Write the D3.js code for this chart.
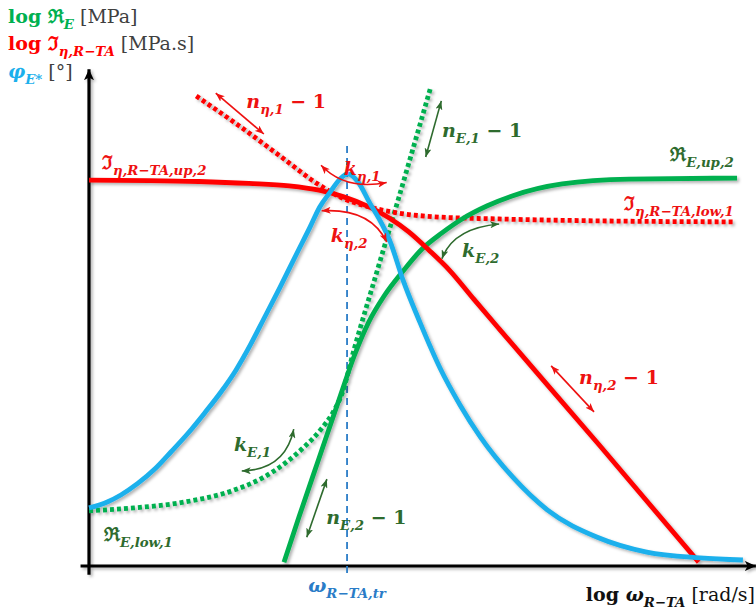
<!DOCTYPE html>
<html>
<head>
<meta charset="utf-8">
<script src="https://cdn.jsdelivr.net/npm/d3@7"></script>
<style>
  html, body { margin: 0; padding: 0; background: #fff; }
  svg { display: block; }
</style>
</head>
<body>
<svg id="chart" width="756" height="614"></svg>
<script>
// Abstract units: x = log angular frequency (0–100), y = log response (0–100)

// Loss-viscosity master curve, upper (solid) branch
const imUp = [[0,80.4],[9.2,80.3],[16.9,80.1],[24.6,79.7],[30.8,79.2],[35.4,78.3],[39.2,76.9],
  [43.1,74.8],[46.2,72.5],[49.2,69.6],[52.3,65.8],[55.4,61.7],[59.2,55.6],[63.1,49.4],
  [78.5,25.2],[93.8,0.8]];
// Loss-viscosity, lower (dotted) branch
const imLow = [[16.5,97.9],[23.1,91.7],[29.2,85.6],[35.4,79.4],[39.2,76.5],[43.1,74.8],
  [47.7,73.5],[53.8,72.7],[63.1,72.3],[78.5,71.9],[99.2,71.7]];
// Storage modulus, upper (solid) branch
const reUp = [[30.0,0.8],[32.3,10.2],[35.4,22.5],[38.5,34.8],[40.8,43.75],[43.1,51.0],
  [45.4,56.25],[48.2,61.25],[51.2,66.0],[54.3,69.4],[57.4,72.3],[61.2,75.0],[65.1,77.1],
  [72.8,79.6],[83.1,80.6],[99.7,80.8]];
// Storage modulus, lower (dotted) branch
const reLow = [[0,11.5],[6.9,12.1],[14.6,13.3],[22.3,15.8],[26.9,18.5],[30.0,21.25],
  [33.1,24.8],[35.7,28.5],[37.5,31.9],[38.9,35.8],[40.8,45.2],[44.6,62.7],[47.7,76.9],
  [49.7,86.25],[52.5,99.4]];
// Phase angle
const phase = [[0,12.1],[2.9,13.4],[4.9,14.8],[7.5,17.2],[10.2,20.3],[12.6,23.75],
  [15.2,27.6],[17.8,31.9],[20.3,36.25],[22.6,40.8],[24.8,46.0],[26.8,51.25],[29.4,58.1],
  [32.0,65.2],[34.0,70.6],[35.5,74.8],[37.1,77.9],[38.6,80.6],[39.8,81.7],[41.4,80.0],
  [43.2,75.6],[44.8,71.9],[46.3,67.7],[48.3,59.6],[50.9,50.8],[54.0,41.25],[57.1,33.5],
  [60.2,26.9],[65.2,18.5],[70.5,11.7],[78.2,6.0],[85.8,2.9],[94.0,1.7],[100.6,1.25]];
// Transition frequency
const omegaTr = 39.7;

const C = {
  red: "#ff0000", redText: "#ee1111",
  green: "#00b050", dkGreen: "#2e6b2e",
  blue: "#1cb0ec", dkBlue: "#2a7cc7",
  gray: "#404040"
};

const svg = d3.select("#chart");
const x = d3.scaleLinear().domain([0, 100]).range([89, 739]);
const y = d3.scaleLinear().domain([0, 100]).range([566, 86]);

const defs = svg.append("defs");
const shadow = defs.append("filter").attr("id", "shadow")
  .attr("x", "-10%").attr("y", "-10%").attr("width", "120%").attr("height", "120%");
shadow.append("feDropShadow").attr("dx", 2).attr("dy", 2)
  .attr("stdDeviation", 1.4).attr("flood-color", "#000").attr("flood-opacity", 0.3);

function arrowMarker(id, color, len, wid) {
  defs.append("marker").attr("id", id)
    .attr("viewBox", `0 ${-wid / 2} ${len} ${wid}`)
    .attr("refX", len).attr("refY", 0)
    .attr("markerWidth", len).attr("markerHeight", wid)
    .attr("markerUnits", "userSpaceOnUse")
    .attr("orient", "auto-start-reverse")
    .append("path")
    .attr("d", `M0,${-wid / 2}L${len},0L0,${wid / 2}L${len * 0.25},0Z`)
    .attr("fill", color);
}
arrowMarker("axisHead", "#000", 11, 10);
arrowMarker("redHead", C.redText, 9, 7);
arrowMarker("greenHead", C.dkGreen, 9, 7);

// Axes
const axes = svg.append("g").attr("filter", "url(#shadow)");
axes.append("line")
  .attr("x1", x(0)).attr("y1", y(-1.8)).attr("x2", x(0)).attr("y2", y(103.5))
  .attr("stroke", "#000").attr("stroke-width", 3.2).attr("marker-end", "url(#axisHead)");
axes.append("line")
  .attr("x1", x(-1.3)).attr("y1", y(0)).attr("x2", x(102.6)).attr("y2", y(0))
  .attr("stroke", "#000").attr("stroke-width", 3.2).attr("marker-end", "url(#axisHead)");

// Transition frequency marker
svg.append("line")
  .attr("x1", x(omegaTr)).attr("x2", x(omegaTr))
  .attr("y1", y(87.5)).attr("y2", y(-2.3))
  .attr("stroke", C.dkBlue).attr("stroke-width", 1.8).attr("stroke-dasharray", "7,5");

const line = d3.line().x(d => x(d[0])).y(d => y(d[1])).curve(d3.curveMonotoneX);
const curves = svg.append("g").attr("filter", "url(#shadow)").attr("fill", "none");

function drawCurve(data, color, dotted) {
  curves.append("path").datum(data).attr("d", line)
    .attr("stroke", color)
    .attr("stroke-width", 4.8)
    .attr("stroke-dasharray", dotted ? "4,3" : null)
    .attr("stroke-linecap", "butt")
    .attr("stroke-linejoin", "round");
}
drawCurve(reLow, C.green, true);
drawCurve(imLow, C.red, true);
drawCurve(reUp, C.green, false);
drawCurve(imUp, C.red, false);
drawCurve(phase, C.blue, false);

// Rich text with subscripts
const FONT = "'DejaVu Serif', 'Liberation Serif', serif";
function rich(px, py, parts, opts = {}) {
  const size = opts.size || 19;
  const t = svg.append("text")
    .attr("x", px).attr("y", py)
    .attr("text-anchor", opts.anchor || "start")
    .style("font-family", FONT);
  let shift = 0;
  parts.forEach(p => {
    const target = p.sub ? size * 0.3 : 0;
    t.append("tspan")
      .attr("dy", target - shift)
      .style("font-size", (p.sub ? size * 0.7 : size) + "px")
      .style("font-style", p.it ? "italic" : "normal")
      .style("font-weight", p.reg ? "normal" : "bold")
      .style("fill", p.c || opts.color)
      .text(p.t);
    shift = target;
  });
  return t;
}

// Axis titles
rich(8, 23, [{t: "log "}, {t: "ℜ"}, {t: "E", sub: 1, it: 1}, {t: " [MPa]", reg: 1, c: C.gray}], {color: C.green});
rich(8, 50, [{t: "log "}, {t: "ℑ"}, {t: "η,R−TA", sub: 1, it: 1}, {t: " [MPa.s]", reg: 1, c: C.gray}], {color: C.red});
rich(8, 78, [{t: "φ", it: 1}, {t: "E*", sub: 1, it: 1}, {t: " [°]", reg: 1, c: C.gray}], {color: C.blue});
rich(755, 601, [{t: "log "}, {t: "ω", it: 1}, {t: "R−TA", sub: 1, it: 1}, {t: " [rad/s]", reg: 1}], {color: "#111", anchor: "end"});
rich(x(omegaTr), 592, [{t: "ω", it: 1}, {t: "R−TA,tr", sub: 1, it: 1}], {color: C.dkBlue, anchor: "middle"});

// Curve names
rich(x(2.0), y(82.7), [{t: "ℑ"}, {t: "η,R−TA,up,2", sub: 1, it: 1}], {color: C.redText});
rich(x(99.2), y(74.2), [{t: "ℑ"}, {t: "η,R−TA,low,1", sub: 1, it: 1}], {color: C.redText, anchor: "end"});
rich(x(99.2), y(84.4), [{t: "ℜ"}, {t: "E,up,2", sub: 1, it: 1}], {color: C.dkGreen, anchor: "end"});
rich(x(2.3), y(5.2), [{t: "ℜ"}, {t: "E,low,1", sub: 1, it: 1}], {color: C.dkGreen});

// Slope and curvature annotations
const ann = svg.append("g").attr("fill", "none").attr("stroke-width", 1.6);
function dblArrow(p0, p1, ctrl, color, head) {
  const path = d3.path();
  path.moveTo(x(p0[0]), y(p0[1]));
  if (ctrl) path.quadraticCurveTo(x(ctrl[0]), y(ctrl[1]), x(p1[0]), y(p1[1]));
  else path.lineTo(x(p1[0]), y(p1[1]));
  ann.append("path").attr("d", path.toString()).attr("stroke", color)
    .attr("marker-start", `url(#${head})`).attr("marker-end", `url(#${head})`);
}
const nPart = (s) => [{t: "n", it: 1}, {t: s, sub: 1, it: 1}, {t: " − 1"}];
const kPart = (s) => [{t: "k", it: 1}, {t: s, sub: 1, it: 1}];

rich(x(24.2), y(95.4), nPart("η,1"), {color: C.redText});
dblArrow([19.5, 98.5], [26.9, 90.0], null, C.redText, "redHead");

rich(x(39.2), y(81.5), kPart("η,1"), {color: C.redText});
dblArrow([35.7, 83.5], [45.8, 79.9], [39.4, 78.2], C.redText, "redHead");

rich(x(37.2), y(67.5), kPart("η,2"), {color: C.redText});
dblArrow([35.8, 74.0], [45.8, 67.5], [43.3, 74.6], C.redText, "redHead");

rich(x(75.4), y(37.9), nPart("η,2"), {color: C.redText});
dblArrow([71.1, 41.7], [77.7, 32.1], null, C.redText, "redHead");

rich(x(54.3), y(89.4), nPart("E,1"), {color: C.dkGreen});
dblArrow([54.2, 96.9], [51.8, 85.2], null, C.dkGreen, "greenHead");

rich(x(57.4), y(64.4), kPart("E,2"), {color: C.dkGreen});
dblArrow([54.3, 64.0], [63.1, 71.25], [56.0, 70.4], C.dkGreen, "greenHead");

rich(x(22.3), y(24.0), kPart("E,1"), {color: C.dkGreen});
dblArrow([23.5, 19.8], [31.5, 28.5], [30.2, 20.0], C.dkGreen, "greenHead");

rich(x(36.5), y(8.75), nPart("E,2"), {color: C.dkGreen});
dblArrow([36.6, 18.1], [33.5, 6.0], null, C.dkGreen, "greenHead");
</script>
</body>
</html>
